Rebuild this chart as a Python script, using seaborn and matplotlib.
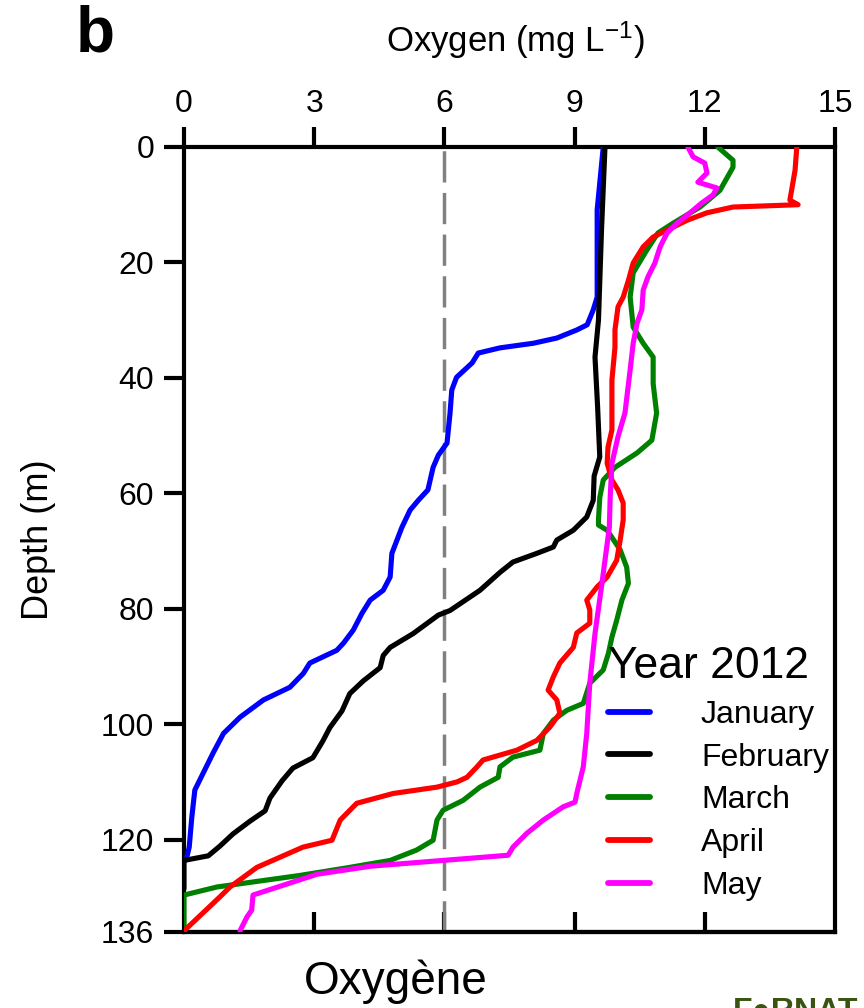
import numpy as np
import pandas as pd
import matplotlib
matplotlib.use("Agg")
import matplotlib.pyplot as plt
from matplotlib.lines import Line2D
import seaborn as sns

# Dissolved oxygen profiles (mg/L) against depth (m), 2012
jan_depth = [0, 10.9, 26, 28.2, 30.8, 31.7, 33.1, 34.0, 34.8, 35.7, 37.4, 39.9, 42.1, 46.1,
             51.3, 53.4, 55.5, 59.4, 61.2, 62.9, 65.9, 70.4, 74.5, 76.8, 78.5, 80.8, 83.7,
             86.0, 87.2, 89.4, 91.2, 93.6, 95.8, 98.8, 101.6, 105.0, 108.5, 111.4, 116.1,
             121.3, 123.5]
jan_oxy = [9.66, 9.52, 9.52, 9.43, 9.29, 9.05, 8.59, 8.05, 7.28, 6.78, 6.64, 6.28, 6.17, 6.13,
           6.06, 5.86, 5.74, 5.62, 5.40, 5.21, 5.02, 4.79, 4.75, 4.59, 4.29, 4.10, 3.90,
           3.67, 3.52, 2.90, 2.75, 2.44, 1.83, 1.29, 0.91, 0.67, 0.44, 0.25, 0.18,
           0.12, 0.05]

feb_depth = [0, 14.4, 30, 36.4, 45, 53.7, 57, 61.2, 64.1, 66.4, 68.1, 69.3, 70.4, 71.9, 73.7,
             76.8, 80.3, 81.1, 84.3, 86.7, 88.1, 90.2, 92.5, 94.7, 97.7, 100.6, 102.9, 105.8,
             107.6, 109.8, 112.8, 115.0, 116.8, 119.0, 121.1, 122.8, 123.4, 123.6, 128.5]
feb_oxy = [9.70, 9.62, 9.55, 9.47, 9.53, 9.58, 9.45, 9.43, 9.28, 8.97, 8.59, 8.51, 8.13, 7.58, 7.28,
           6.82, 6.13, 5.86, 5.28, 4.75, 4.59, 4.52, 4.13, 3.82, 3.64, 3.36, 3.20, 2.97,
           2.51, 2.26, 1.98, 1.87, 1.52, 1.13, 0.83, 0.56, 0.14, 0.0, 0.0]

mar_depth = [0, 2.3, 3.5, 7.5, 10.4, 13.2, 14.9, 17.9, 21.8, 26, 31.2, 34, 36.4, 41, 46.1, 50.8,
             53, 55.5, 57.7, 60.7, 64.6, 65.5, 66.4, 69.8, 72.8, 75.6, 78.5, 82, 84.9, 87.7,
             90.6, 92.9, 96.4, 97.6, 99.3, 101.6, 104.5, 105.7, 107.4, 109.2, 110.9, 113.2,
             114.9, 116.6, 120.1, 121.8, 123.6, 124.8, 126.2, 128.2, 129.6, 136]
mar_oxy = [12.30, 12.65, 12.65, 12.35, 11.89, 11.27, 10.92, 10.66, 10.35, 10.28, 10.35, 10.58,
           10.81, 10.81, 10.89, 10.78, 10.44, 9.93, 9.66, 9.58, 9.55, 9.55, 9.75, 10.05, 10.20,
           10.24, 10.09, 9.97, 9.86, 9.78, 9.66, 9.35, 9.20, 8.82, 8.51, 8.28, 8.20, 7.58,
           7.28, 7.24, 6.82, 6.43, 5.97, 5.83, 5.74, 5.36, 4.75, 3.82, 2.67, 0.76, 0.0, 0.0]

apr_depth = [0, 4, 7.5, 9.2, 10.0, 10.4, 11.4, 12.7, 14.4, 15.6, 17.3, 20.1, 23.1, 26, 27.7,
             31.7, 34.7, 40.4, 49, 52, 54.8, 57.7, 59.4, 61.7, 64.6, 68.1, 71.6, 74.5, 76.2,
             78.5, 80.2, 82.5, 84.2, 86.7, 89.4, 91.8, 94.1, 95.8, 98.1, 100.5, 102.8, 104.5,
             106.2, 107.4, 109.2, 110.0, 110.9, 112.0, 113.7, 116.6, 120.1, 121.3, 124.8,
             128.2, 129.9, 135.8]
apr_oxy = [14.12, 14.08, 14.0, 13.96, 14.15, 12.65, 12.05, 11.59, 11.13, 10.81, 10.58, 10.35,
           10.24, 10.12, 10.0, 9.93, 9.93, 9.86, 9.86, 9.77, 9.75, 9.86, 10.0, 10.12, 10.12,
           10.05, 9.97, 9.75, 9.52, 9.28, 9.35, 9.35, 9.05, 8.97, 8.66, 8.51, 8.39, 8.59,
           8.66, 8.43, 8.13, 7.67, 6.89, 6.75, 6.52, 6.29, 5.83, 4.82, 3.98, 3.60, 3.41,
           2.74, 1.68, 1.06, 0.83, 0.0]

may_depth = [0, 1.7, 2.8, 4.5, 6.1, 7.1, 8.3, 9.7, 11.4, 13.2, 14.9, 17.3, 20.1, 22.5, 24.8,
             28.2, 30.5, 34, 38.6, 46.1, 50.2, 54.8, 60.7, 65.9, 75.6, 84.3, 92.9, 101.6,
             107.4, 112, 113.5, 114.3, 116.6, 118.9, 121.3, 122.7, 124.6, 126.0, 129.6,
             132.2, 133.4, 135.8]
may_oxy = [11.61, 11.73, 12.0, 12.05, 11.84, 12.28, 12.19, 11.93, 11.66, 11.36, 11.13, 10.97,
           10.85, 10.69, 10.58, 10.55, 10.44, 10.35, 10.28, 10.16, 10.0, 9.86, 9.82, 9.80,
           9.63, 9.47, 9.35, 9.28, 9.20, 9.05, 9.01, 8.74, 8.28, 7.90, 7.58, 7.47, 4.30,
           3.06, 1.59, 1.56, 1.45, 1.29]

months = ["January", "February", "March", "April", "May"]
colors = ["#0000ff", "#000000", "#008000", "#ff0000", "#ff00ff"]
x_ticks = [0, 3, 6, 9, 12, 15]
y_ticks = [0, 20, 40, 60, 80, 100, 120, 136]
hypoxia_threshold = 6

profiles = {
    "January": (jan_depth, jan_oxy),
    "February": (feb_depth, feb_oxy),
    "March": (mar_depth, mar_oxy),
    "April": (apr_depth, apr_oxy),
    "May": (may_depth, may_oxy),
}
frames = []
for m in months:
    d, o = profiles[m]
    frames.append(pd.DataFrame({"depth": d, "oxygen": o, "month": m}))
df = pd.concat(frames, ignore_index=True)

sns.set_style("white")
plt.rcParams["font.family"] = ["Liberation Sans", "DejaVu Sans"]
plt.rcParams["mathtext.fontset"] = "custom"
plt.rcParams["mathtext.rm"] = "Liberation Sans"
plt.rcParams["mathtext.it"] = "Liberation Sans"
for key in ["text.color", "axes.labelcolor", "xtick.color", "ytick.color"]:
    plt.rcParams[key] = "black"

fig = plt.figure(figsize=(8.64, 10.08), dpi=100)
ax = fig.add_axes([184 / 864, 1 - 932 / 1008, (835 - 184) / 864, (932 - 147) / 1008])

ax.axvline(hypoxia_threshold, color="#808080", lw=2.5, dashes=(9, 3), zorder=1)

palette = dict(zip(months, colors))
sns.lineplot(data=df, x="oxygen", y="depth", hue="month", hue_order=months,
             palette=palette, sort=False, estimator=None, linewidth=3.7, ax=ax,
             legend=False, zorder=3)
for ln in ax.get_lines():
    ln.set_solid_joinstyle("round")
    ln.set_solid_capstyle("round")

ax.set_xlim(0, 15)
ax.set_ylim(136, 0)
ax.set_xlabel("")
ax.set_ylabel("")

# Top axis: labelled ticks pointing outward
ax.xaxis.tick_top()
ax.set_xticks(x_ticks)
ax.tick_params(axis="x", top=True, bottom=False, labeltop=True, labelbottom=False,
               direction="out", length=14.5, width=3, labelsize=23, pad=6,
               color="black", labelcolor="black")
# Bottom axis: unlabelled ticks pointing inward
sec = ax.secondary_xaxis("bottom")
sec.set_xticks(x_ticks[1:-1])
sec.tick_params(axis="x", direction="in", length=14.5, width=3, labelbottom=False,
                color="black")
sec.spines["bottom"].set_linewidth(3)

ax.set_yticks(y_ticks)
ax.tick_params(axis="y", left=True, right=False, direction="out", length=14.5, width=3,
               labelsize=23, pad=7, color="black", labelcolor="black")

for s in ax.spines.values():
    s.set_visible(True)
    s.set_linewidth(3)
    s.set_color("black")

handles = [Line2D([], [], color=c, lw=4.2) for c in colors]
leg = ax.legend(handles, months, title="Year 2012", frameon=False,
                loc="upper right", bbox_to_anchor=(829 / 864, 1 - 646 / 1008),
                bbox_transform=fig.transFigure, fontsize=23, title_fontsize=32,
                handlelength=1.3, handletextpad=1.6, labelspacing=0.4, borderpad=0,
                borderaxespad=0)
leg._legend_box.align = "left"

fig.text(515 / 864, 1 - 40 / 1008, "Oxygen (mg L$^{-1}$)", ha="center", va="center",
         fontsize=25)
fig.text(38 / 864, 1 - 540 / 1008, "Depth (m)", ha="center", va="center",
         rotation=90, fontsize=26)
fig.text(396 / 864, 1 - 982 / 1008, "Oxygène", ha="center", va="center", fontsize=33)
fig.text(76 / 864, 1 - 51 / 1008, "b", ha="left", va="baseline", fontsize=46,
         fontweight="bold")
fig.text(733 / 864, 1 - 997 / 1008, "F●RNAT", ha="left", va="top", fontsize=23,
         fontweight="bold", color="#3b5412")

fig.savefig("out.png", dpi=100)
